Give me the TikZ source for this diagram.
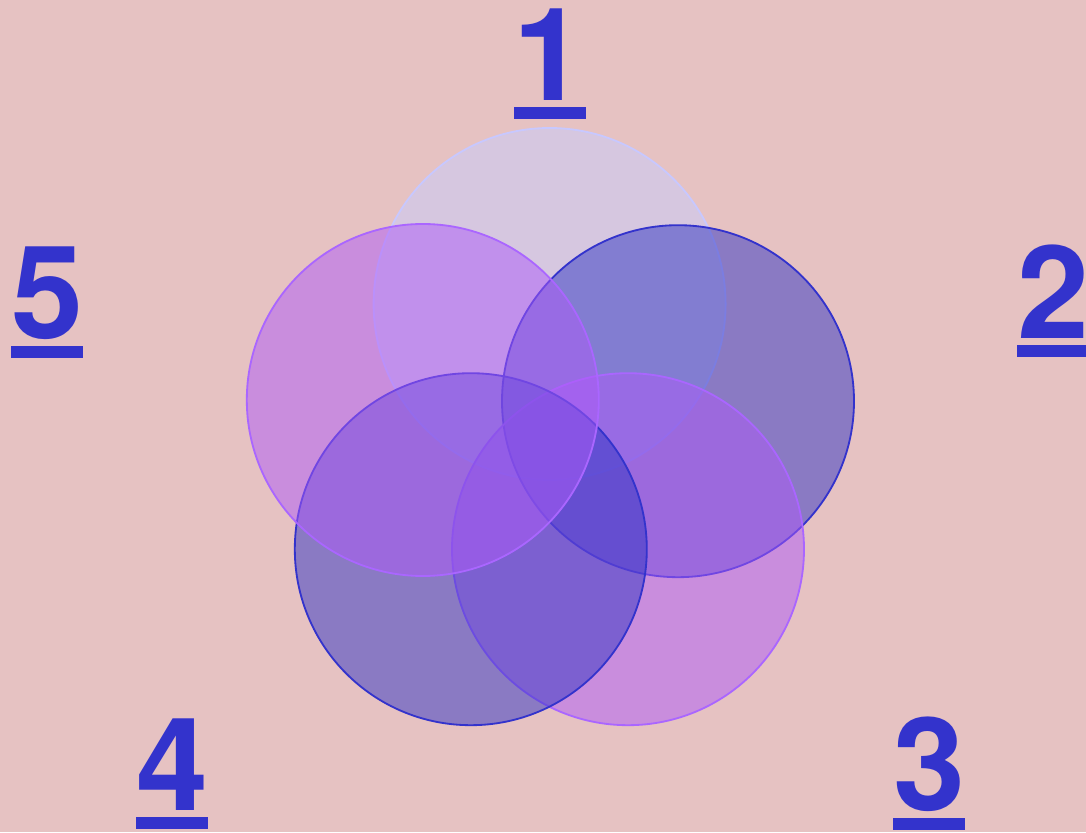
\documentclass[tikz,border=0pt]{standalone}
\usepackage{fontspec}
\setmainfont{Liberation Sans}
\newfontfamily\numfuente{TeX Gyre Heros}
\usetikzlibrary{positioning}
\definecolor{cfondo}{HTML}{E6C2C2}
\definecolor{cazul}{HTML}{3034C4}
\definecolor{cazulb}{HTML}{3333CC}
\definecolor{cvioleta}{HTML}{AE5AF8}
\definecolor{cvioletab}{HTML}{AA66FF}
\definecolor{clila}{HTML}{C8CCFE}
\definecolor{clilab}{HTML}{C8C8FF}
\definecolor{cnum}{HTML}{3333CC}
\newcommand{\numsub}[1]{\vtop{\hbox{#1}\kern0.15cm\hrule height 0.3cm}}
\tikzset{
  disco/.style={circle,minimum size=8.8cm,inner sep=0pt,line width=1.3pt,
                fill opacity=0.5},
  discoa/.style={disco,draw=cazulb,fill=cazul},
  discov/.style={disco,draw=cvioletab,fill=cvioleta},
  discol/.style={disco,draw=clilab,fill=clila},
  numero/.style={anchor=base,inner sep=0pt,text=cnum,
                 font=\numfuente\bfseries\fontsize{92}{92}\selectfont},
}
\begin{document}
\begin{tikzpicture}[x=1cm,y=1cm]

\fill[cfondo] (0,0) rectangle (27.15,20.8);
\useasboundingbox (0,0) rectangle (27.15,20.8);

% petalos
\node[discol] (p1) at (13.74,13.2) {};
\node[discoa] (p2) at (16.95,10.77) {};
\node[discov] (p3) at (15.7,7.07) {};
\node[discoa] (p4) at (11.77,7.07) {};
\node[discov] (p5) at (10.57,10.8) {};

% numeros
\node[numero] (n1) at (13.74,18.28) {\numsub{1}};
\node[numero] (n2) at (26.33,12.33) {\numsub{2}};
\node[numero] (n3) at (23.23,0.53) {\numsub{3}};
\node[numero] (n4) at (4.3,0.53) {\numsub{4}};
\node[numero] (n5) at (1.18,12.33) {\numsub{5}};

\end{tikzpicture}
\end{document}
